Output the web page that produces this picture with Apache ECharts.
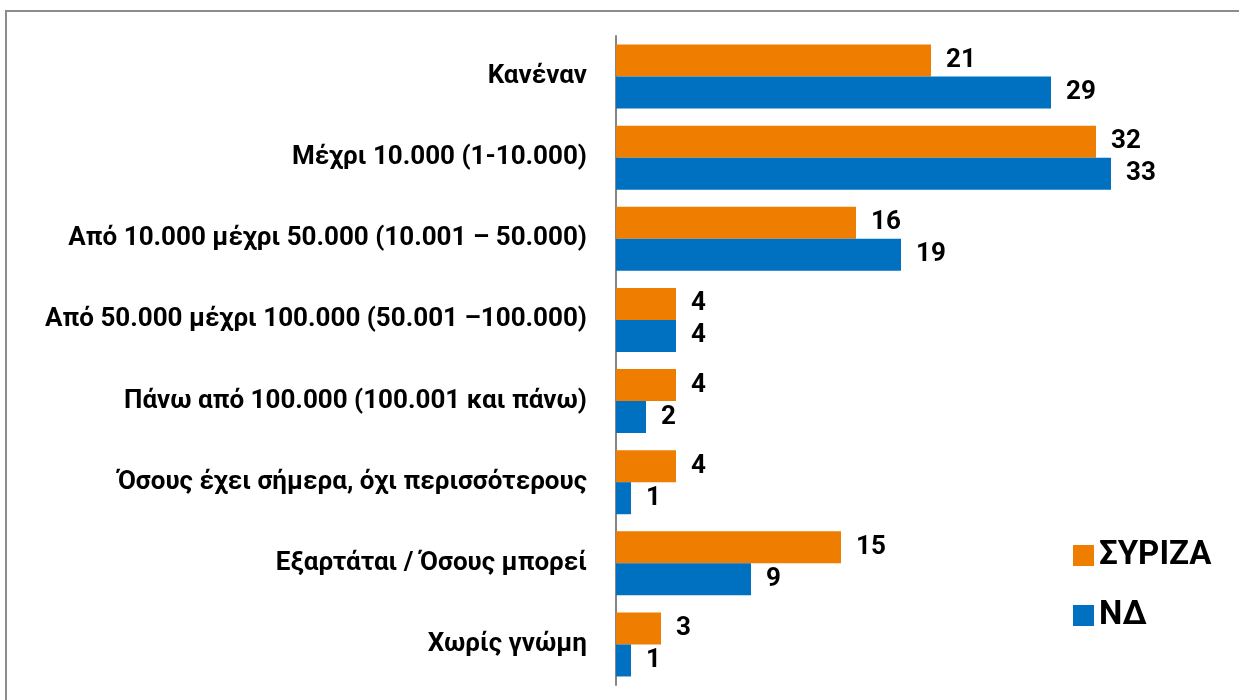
<!DOCTYPE html>
<html>
<head>
<meta charset="utf-8">
<script src="https://cdn.jsdelivr.net/npm/echarts@6/dist/echarts.min.js"></script>
<style>
  html, body { margin: 0; padding: 0; background: #fff; }
  #chart { width: 1239px; height: 700px; }
</style>
</head>
<body>
<div id="chart"></div>
<script>
const categories = [
  'Κανέναν',
  'Μέχρι 10.000 (1-10.000)',
  'Από 10.000 μέχρι 50.000 (10.001 – 50.000)',
  'Από 50.000 μέχρι 100.000 (50.001 –100.000)',
  'Πάνω από 100.000 (100.001 και πάνω)',
  'Όσους έχει σήμερα, όχι περισσότερους',
  'Εξαρτάται / Όσους μπορεί',
  'Χωρίς γνώμη'
]
const syriza = [21, 32, 16, 4, 4, 4, 15, 3]
const nd = [29, 33, 19, 4, 2, 1, 9, 1]

const font = 'Roboto, "Noto Sans", sans-serif'

const chart = echarts.init(document.getElementById('chart'))

// value labels at the end of each bar
const labelStyle = {
  show: true,
  position: 'right',
  distance: 15,
  color: '#000',
  fontFamily: font,
  fontWeight: 'bold',
  fontSize: 26
}

chart.setOption({
  animation: false,
  textStyle: { fontFamily: font },
  // grey frame round the chart
  graphic: [{
    type: 'rect',
    shape: { x: 6, y: 11, width: 1300, height: 800 },
    style: { fill: 'none', stroke: '#8c8c8c', lineWidth: 2 }
  }],
  grid: { left: 616, top: 36, bottom: 15, right: 23 },
  legend: {
    orient: 'vertical',
    left: 1068,
    top: 534,
    itemWidth: 21,
    itemHeight: 21,
    itemGap: 27,
    icon: 'rect',
    textStyle: { fontFamily: font, fontWeight: 'bold', fontSize: 33, color: '#000' },
    data: ['ΣΥΡΙΖΑ', 'ΝΔ']
  },
  xAxis: {
    type: 'value',
    min: 0,
    max: 40,
    show: false
  },
  yAxis: {
    type: 'category',
    inverse: true,
    data: categories,
    axisLine: { lineStyle: { color: '#868686', width: 2 } },
    axisTick: { length: 9, lineStyle: { color: '#868686', width: 2 } },
    axisLabel: {
      margin: 29,
      color: '#000',
      fontFamily: font,
      fontWeight: 'bold',
      fontSize: 26
    }
  },
  series: [
    {
      name: 'ΣΥΡΙΖΑ',
      type: 'bar',
      data: syriza,
      barGap: '0%',
      barCategoryGap: '21%',
      itemStyle: { color: '#EF7D00' },
      label: labelStyle
    },
    {
      name: 'ΝΔ',
      type: 'bar',
      data: nd,
      itemStyle: { color: '#0070C0' },
      label: labelStyle
    }
  ]
})
</script>
</body>
</html>
